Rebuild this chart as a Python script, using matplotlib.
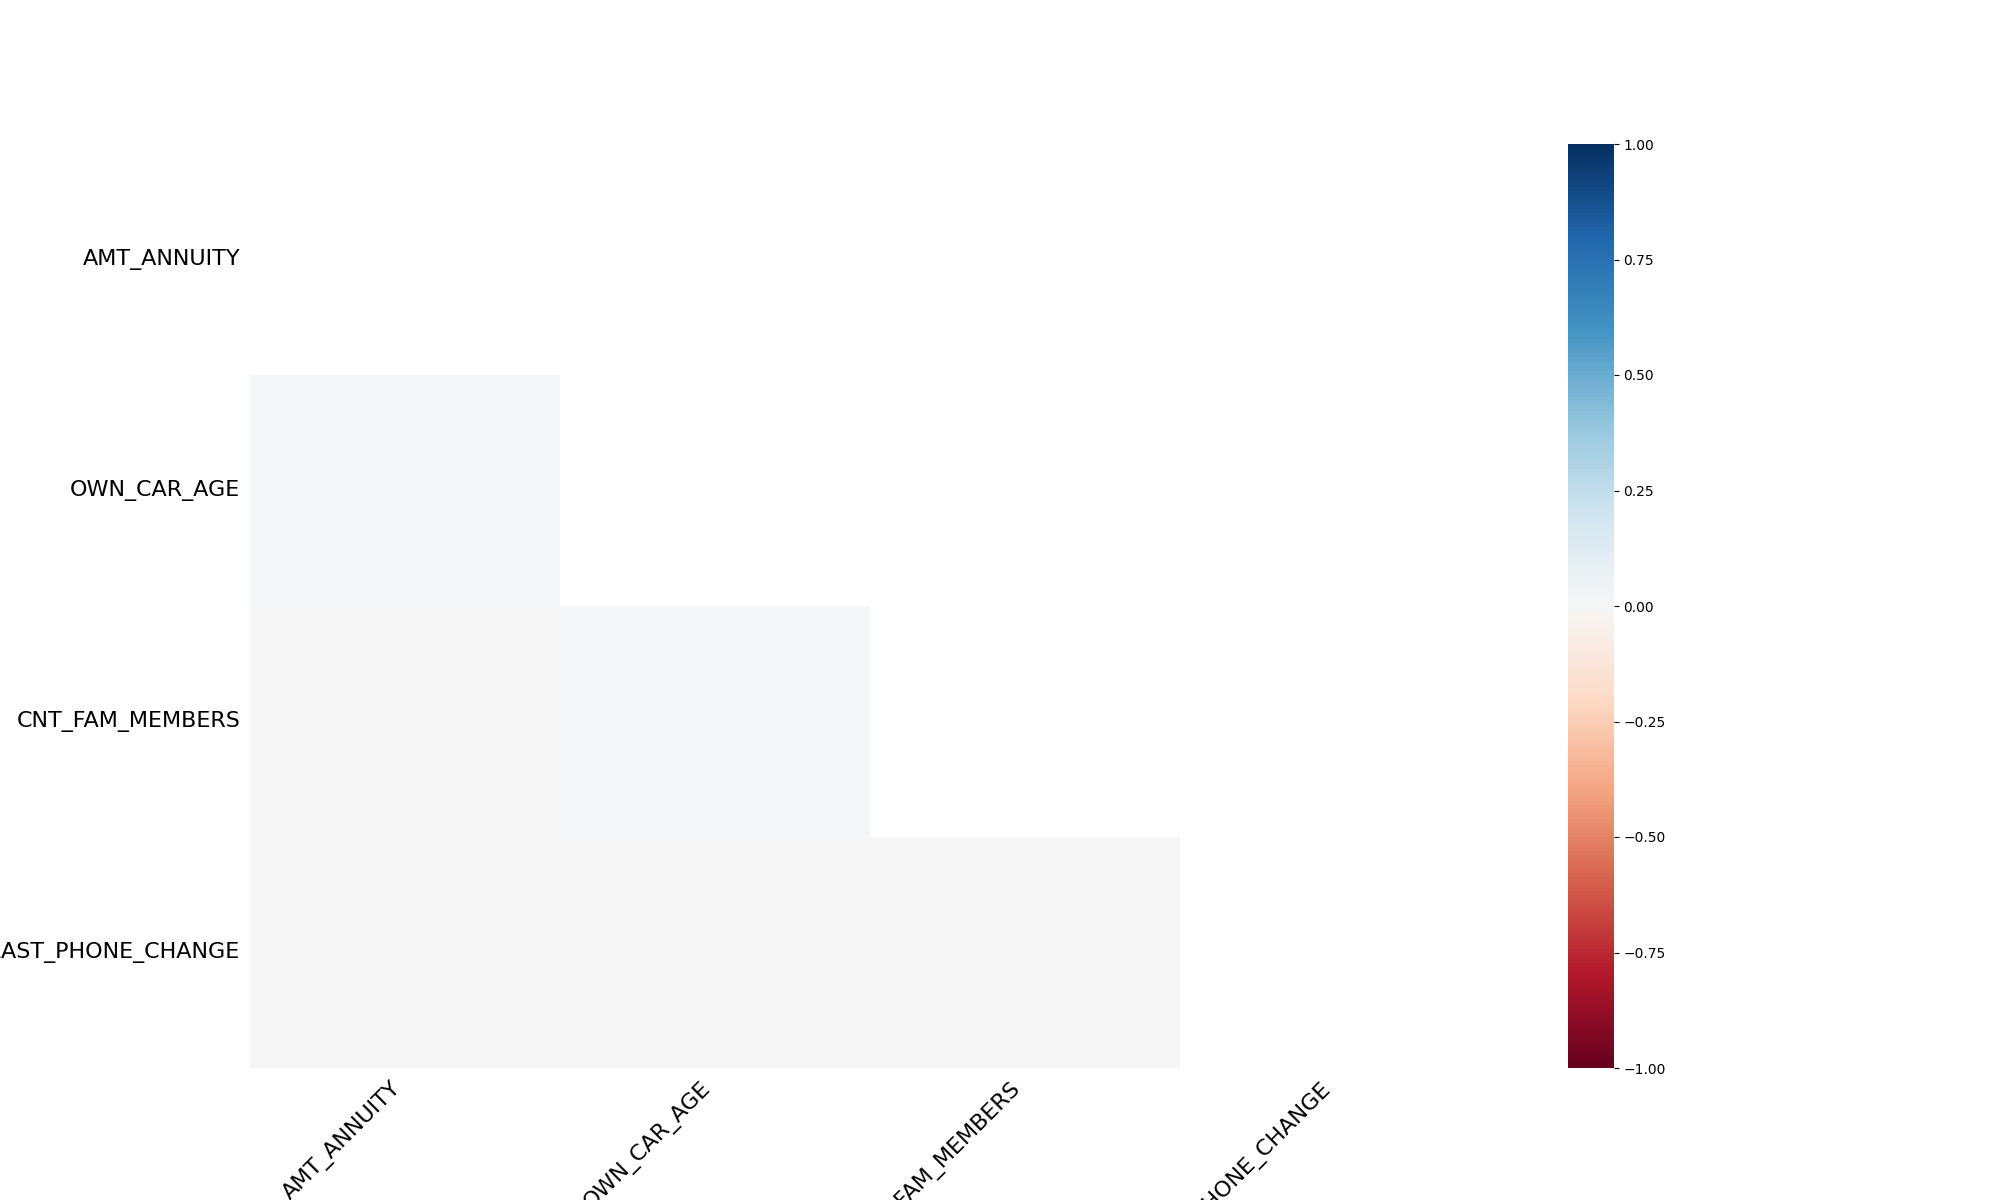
import numpy as np
import matplotlib
matplotlib.use('Agg')
import matplotlib.pyplot as plt

# nullity correlation between columns (lower triangle only, rest masked)
columns = ['AMT_ANNUITY', 'OWN_CAR_AGE', 'CNT_FAM_MEMBERS', 'DAYS_LAST_PHONE_CHANGE']
corr = [
    [1.0,    0.0,    0.0,    0.0],
    [0.008,  1.0,    0.0,    0.0],
    [-0.004, 0.008,  1.0,    0.0],
    [-0.004, -0.004, -0.004, 1.0],
]

corr_mat = np.array(corr)
mask = np.zeros_like(corr_mat, dtype=bool)
mask[np.triu_indices_from(mask)] = True
data = np.ma.masked_where(mask, corr_mat)

fig = plt.figure(figsize=(20, 12), dpi=100)
ax = plt.axes([0.125, 0.11, 0.775, 0.77])
mesh = ax.pcolormesh(data, cmap='RdBu', vmin=-1, vmax=1)
ax.set_xlim(0, len(columns))
ax.set_ylim(len(columns), 0)

cb = fig.colorbar(mesh, ax=ax, fraction=0.15, pad=0.05, aspect=20)
cb.outline.set_linewidth(0)

ticks = np.arange(len(columns)) + 0.5
ax.set_xticks(ticks)
ax.set_yticks(ticks)
ax.set_xticklabels(columns, rotation=45, ha='right', fontsize=16)
ax.set_yticklabels(columns, rotation=0, va='center', fontsize=16)
ax.xaxis.set_ticks_position('none')
ax.yaxis.set_ticks_position('none')
for s in ax.spines.values():
    s.set_visible(False)
ax.patch.set_visible(False)

plt.savefig('out.png')
